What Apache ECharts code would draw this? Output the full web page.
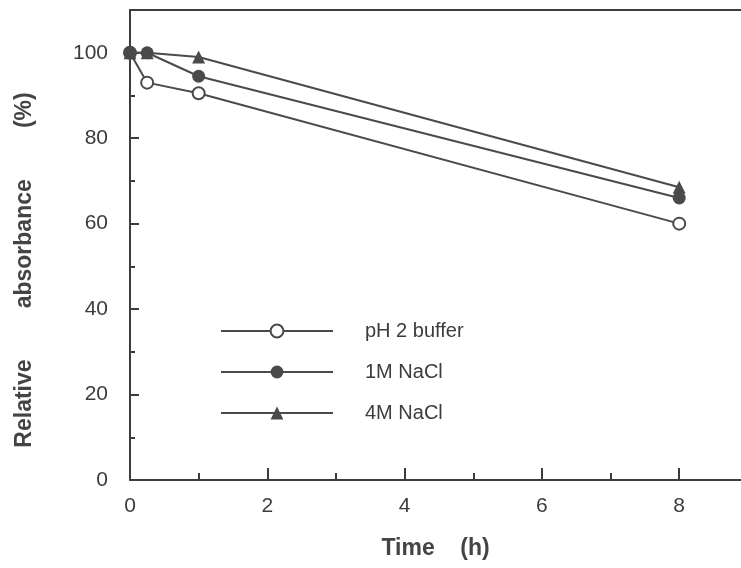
<!DOCTYPE html>
<html>
<head>
<meta charset="utf-8">
<script src="https://cdn.jsdelivr.net/npm/echarts@6/dist/echarts.min.js"></script>
<style>
html,body{margin:0;padding:0;background:#fff;overflow:hidden;}
#chart{width:741px;height:568px;}
</style>
</head>
<body>
<div id="chart"></div>
<script>
// Data
var times = [0, 0.25, 1, 8];
var ph2Buffer = [100, 93, 90.5, 60];
var nacl1M = [100, 100, 94.5, 66];
var nacl4M = [100, 100, 99, 68.5];
var seriesNames = ['pH 2 buffer', '1M NaCl', '4M NaCl'];
var xTickLabels = [0, 2, 4, 6, 8];
var xMinorTicks = [1, 3, 5, 7];
var yTickLabels = [0, 20, 40, 60, 80, 100];
var yMinorTicks = [10, 30, 50, 70, 90];

function pairs(xs, ys) { return xs.map(function (x, i) { return [x, ys[i]]; }); }

var ink = '#3c3c3c';
var font = 'Liberation Sans, Arial, sans-serif';
var xMax = 8.9;

var chart = echarts.init(document.getElementById('chart'), null, {renderer: 'canvas'});
var option = {
  backgroundColor: '#fff',
  animation: false,
  grid: {left: 130, right: 0, top: 10, bottom: 88, show: false},
  legend: {
    orient: 'vertical', left: 215, top: 316, itemWidth: 112, itemHeight: 16, itemGap: 21,
    data: seriesNames,
    textStyle: {fontFamily: font, fontSize: 20, color: ink, padding: [0, 0, 0, 27]},
    inactiveColor: ink
  },
  xAxis: [{
    type: 'value', min: 0, max: xMax,
    axisLine: {show: true, lineStyle: {color: ink, width: 2}},
    axisTick: {show: true, inside: true, length: 12, customValues: xTickLabels, lineStyle: {color: ink, width: 2}},
    axisLabel: {show: true, margin: 16, fontFamily: font, fontSize: 21, color: ink, customValues: xTickLabels},
    splitLine: {show: false},
    name: 'Time    (h)', nameLocation: 'middle', nameGap: 57,
    nameTextStyle: {fontFamily: font, fontSize: 23, fontWeight: 'bold', color: '#444'}
  }, {
    type: 'value', min: 0, max: xMax, position: 'bottom',
    axisLine: {show: false},
    axisTick: {show: true, inside: true, length: 7, customValues: xMinorTicks, lineStyle: {color: ink, width: 2}},
    axisLabel: {show: false}, splitLine: {show: false}
  }, {
    type: 'value', min: 0, max: xMax, position: 'top',
    axisLine: {show: true, lineStyle: {color: ink, width: 2}},
    axisTick: {show: false}, axisLabel: {show: false}, splitLine: {show: false}
  }],
  yAxis: [{
    type: 'value', min: 0, max: 110,
    axisLine: {show: true, lineStyle: {color: ink, width: 2}},
    axisTick: {show: true, inside: true, length: 9, customValues: yTickLabels, lineStyle: {color: ink, width: 2}},
    axisLabel: {show: true, margin: 22, fontFamily: font, fontSize: 21, color: ink, customValues: yTickLabels},
    splitLine: {show: false},
    name: 'Relative        absorbance        (%)', nameLocation: 'middle', nameRotate: 90, nameGap: 94,
    nameTextStyle: {fontFamily: font, fontSize: 23, fontWeight: 'bold', color: '#444', padding: [0, 50, 0, 0]}
  }, {
    type: 'value', min: 0, max: 110, position: 'left',
    axisLine: {show: false},
    axisTick: {show: true, inside: true, length: 5, customValues: yMinorTicks, lineStyle: {color: ink, width: 2}},
    axisLabel: {show: false}, splitLine: {show: false}
  }],
  series: [{
    name: seriesNames[0], type: 'line', data: pairs(times, ph2Buffer),
    symbol: 'emptyCircle', symbolSize: 12,
    lineStyle: {color: '#4a4a4a', width: 2},
    itemStyle: {color: '#4a4a4a', borderColor: '#4a4a4a', borderWidth: 2},
    z: 3
  }, {
    name: seriesNames[1], type: 'line', data: pairs(times, nacl1M),
    symbol: 'circle', symbolSize: 13,
    lineStyle: {color: '#4a4a4a', width: 2},
    itemStyle: {color: '#4a4a4a'},
    z: 4
  }, {
    name: seriesNames[2], type: 'line', data: pairs(times, nacl4M),
    symbol: 'triangle', symbolSize: 13,
    lineStyle: {color: '#4a4a4a', width: 2},
    itemStyle: {color: '#4a4a4a'},
    z: 5
  }]
};
chart.setOption(option);
</script>
</body>
</html>
